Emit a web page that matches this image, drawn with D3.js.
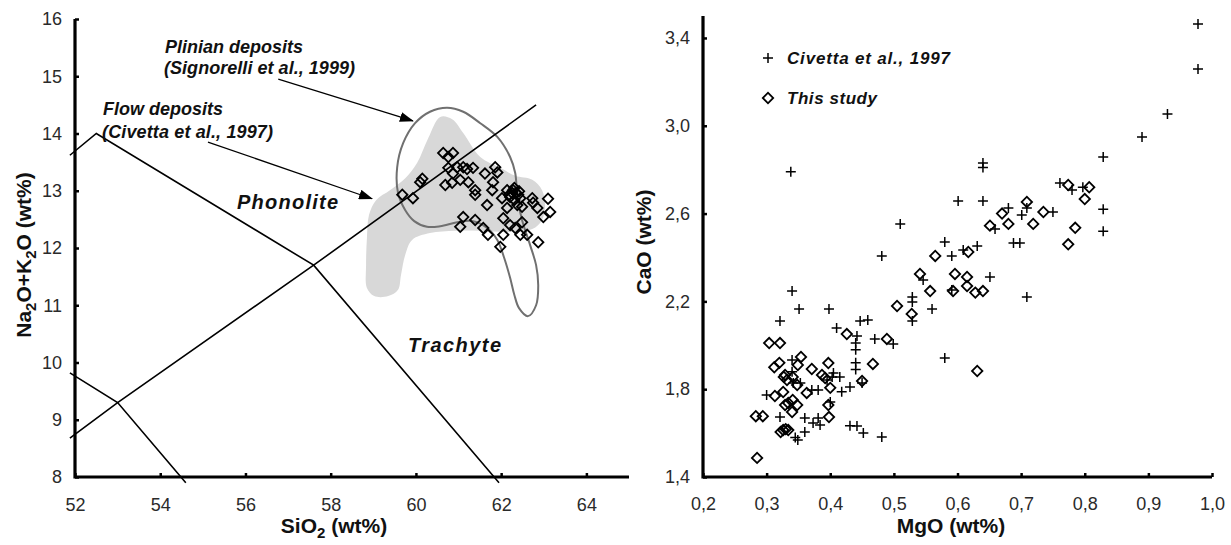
<!DOCTYPE html>
<html><head><meta charset="utf-8">
<script src="https://cdn.jsdelivr.net/npm/d3@7"></script>
<style>body{margin:0;background:#fff}</style>
</head><body>
<svg id="c" width="1231" height="545" xmlns="http://www.w3.org/2000/svg"></svg>
<script>
// ---------- DATA ----------
const tasXTicks = [52, 54, 56, 58, 60, 62, 64];
const tasYTicks = [8, 9, 10, 11, 12, 13, 14, 15, 16];
const tasLine1 = [[51.88, 13.62], [52.5, 14.0], [57.6, 11.7], [61.95, 7.9]];
const tasLine2 = [[51.88, 9.82], [53.0, 9.3], [54.6, 7.9]];
const tasLine3 = [[51.88, 8.68], [53.0, 9.3], [57.6, 11.7], [62.82, 14.5]];
const flowField = [[60.57,14.29],[60.85,14.25],[61.11,14.01],[61.51,13.59],[61.98,13.40],[62.33,13.26],[62.73,13.19],[62.96,13.01],[63.03,12.75],[62.96,12.49],[62.73,12.33],[62.21,12.28],[61.51,12.30],[60.92,12.30],[60.33,12.26],[59.91,12.14],[59.75,11.88],[59.65,11.53],[59.58,11.27],[59.35,11.16],[59.02,11.16],[58.85,11.30],[58.83,11.70],[58.85,12.17],[58.90,12.58],[59.07,12.84],[59.39,13.01],[59.75,13.22],[60.03,13.49],[60.29,13.92]];
const plinianField = [[60.73,14.45],[61.11,14.38],[61.51,14.18],[61.91,13.94],[62.21,13.59],[62.33,13.31],[62.38,12.89],[62.49,12.49],[62.68,12.05],[62.82,11.70],[62.87,11.35],[62.82,11.00],[62.63,10.81],[62.42,10.95],[62.31,11.18],[62.21,11.48],[62.07,11.83],[61.91,12.14],[61.67,12.35],[61.32,12.47],[60.97,12.45],[60.57,12.38],[60.26,12.37],[59.96,12.47],[59.75,12.66],[59.58,12.96],[59.56,13.41],[59.70,13.83],[59.98,14.18],[60.33,14.38]];
const tasStudy = [[59.68,12.93],[59.93,12.87],[60.10,13.15],[60.15,13.21],[60.64,13.66],[60.87,13.66],[60.76,13.59],[60.76,13.40],[60.97,13.41],[61.11,13.41],[61.20,13.38],[61.34,13.40],[60.87,13.30],[61.04,13.19],[60.69,13.10],[60.85,13.14],[61.23,13.15],[61.39,13.01],[61.39,12.93],[61.62,13.30],[61.86,13.41],[61.91,13.32],[61.81,13.15],[61.79,13.01],[61.67,12.75],[62.14,13.01],[62.21,12.89],[62.28,13.01],[62.35,12.96],[62.40,12.93],[62.31,12.84],[62.45,12.87],[62.02,12.87],[62.14,12.70],[62.38,12.75],[62.49,12.72],[62.73,12.87],[62.75,12.79],[62.85,12.70],[63.10,12.86],[63.15,12.63],[62.99,12.54],[61.11,12.54],[61.04,12.37],[61.39,12.49],[61.58,12.35],[61.69,12.23],[62.05,12.52],[62.21,12.40],[62.33,12.35],[62.05,12.23],[62.45,12.23],[62.61,12.23],[62.49,12.45],[62.87,12.10],[61.98,12.02],[62.26,12.96],[62.31,13.05],[62.42,12.99],[62.19,12.93]];
const arrowPlinian = [[56.77, 14.95], [59.93, 14.22]];
const arrowFlow = [[55.12, 13.85], [58.97, 12.86]];

const mgoTicks = [0.2, 0.3, 0.4, 0.5, 0.6, 0.7, 0.8, 0.9, 1.0];
const caoTicks = [1.4, 1.8, 2.2, 2.6, 3.0, 3.4];
const civetta = [[0.978,3.464],[0.978,3.259],[0.930,3.054],[0.890,2.949],[0.829,2.858],[0.640,2.83],[0.640,2.81],[0.601,2.657],[0.640,2.657],[0.761,2.739],[0.780,2.707],[0.797,2.72],[0.829,2.62],[0.829,2.52],[0.680,2.625],[0.701,2.594],[0.709,2.625],[0.750,2.607],[0.659,2.53],[0.688,2.466],[0.698,2.466],[0.580,2.47],[0.591,2.407],[0.609,2.434],[0.631,2.452],[0.651,2.311],[0.510,2.553],[0.481,2.407],[0.546,2.297],[0.529,2.22],[0.529,2.197],[0.529,2.111],[0.560,2.165],[0.591,2.252],[0.709,2.22],[0.580,1.942],[0.338,2.79],[0.340,2.247],[0.351,2.165],[0.321,2.111],[0.398,2.165],[0.410,2.079],[0.447,2.111],[0.459,2.115],[0.442,2.042],[0.440,2.01],[0.440,1.98],[0.440,1.92],[0.440,1.89],[0.470,2.029],[0.499,2.006],[0.300,1.774],[0.321,1.673],[0.340,1.933],[0.340,1.88],[0.342,1.828],[0.349,1.569],[0.345,1.58],[0.360,1.669],[0.360,1.605],[0.373,1.646],[0.381,1.669],[0.384,1.637],[0.371,1.796],[0.381,1.796],[0.353,1.828],[0.395,1.842],[0.405,1.874],[0.403,1.856],[0.415,1.856],[0.418,1.788],[0.431,1.81],[0.400,1.742],[0.431,1.633],[0.442,1.632],[0.452,1.60],[0.481,1.582],[0.450,1.828]];
const thisStudy = [[0.774,2.73],[0.807,2.72],[0.800,2.666],[0.709,2.653],[0.670,2.60],[0.735,2.607],[0.651,2.545],[0.680,2.553],[0.719,2.553],[0.785,2.535],[0.774,2.46],[0.565,2.407],[0.617,2.425],[0.596,2.325],[0.615,2.311],[0.541,2.325],[0.557,2.247],[0.593,2.247],[0.615,2.27],[0.628,2.24],[0.640,2.247],[0.631,1.883],[0.505,2.179],[0.528,2.143],[0.426,2.051],[0.489,2.029],[0.467,1.915],[0.450,1.837],[0.304,2.01],[0.321,2.01],[0.354,1.947],[0.397,1.919],[0.371,1.892],[0.397,1.728],[0.398,1.673],[0.363,1.783],[0.283,1.677],[0.294,1.677],[0.285,1.487],[0.312,1.90],[0.320,1.92],[0.327,1.856],[0.313,1.769],[0.326,1.787],[0.341,1.856],[0.349,1.91],[0.348,1.819],[0.341,1.751],[0.340,1.696],[0.329,1.728],[0.334,1.737],[0.348,1.728],[0.387,1.865],[0.392,1.851],[0.400,1.806],[0.326,1.614],[0.330,1.618],[0.334,1.614],[0.322,1.605],[0.332,1.842],[0.329,1.865]];

// ---------- DRAW ----------
const FONT = "'Liberation Sans', Arial, Helvetica, sans-serif";
const svg = d3.select("#c").style("font-family", FONT);

const defs = svg.append("defs");
defs.append("marker").attr("id", "arr").attr("viewBox", "0 0 14 10")
  .attr("refX", 13).attr("refY", 5).attr("markerWidth", 14).attr("markerHeight", 10)
  .attr("markerUnits", "userSpaceOnUse").attr("orient", "auto")
  .append("path").attr("d", "M0,0L14,5L0,10Z").attr("fill", "#000");

const diamond = d3.symbol().type(d3.symbolSquare).size(54);
const plusPath = "M-5,0H5M0,-5V5";

function styleAxis(g) {
  g.select(".domain").remove();
  g.selectAll(".tick line").attr("stroke", "#000").attr("stroke-width", 2.5);
  g.selectAll(".tick text").attr("fill", "#2a2a2a").style("font-size", "18px").style("font-family", FONT);
}
function axisFrame(g, x, y) {
  const [x0, x1] = x.range(), [y0, y1] = y.range();
  g.append("path").attr("d", `M${x0},${y1}V${y0}H${x1}`)
    .attr("fill", "none").attr("stroke", "#000").attr("stroke-width", 3.2).attr("stroke-linejoin", "miter");
}

// ===== Left chart (TAS) =====
const xL = d3.scaleLinear([52, 65], [75, 629]);
const yL = d3.scaleLinear([8, 16], [477, 19]);
const L = svg.append("g");

const lineL = d3.line().x(d => xL(d[0])).y(d => yL(d[1]));
const smoothL = d3.line().x(d => xL(d[0])).y(d => yL(d[1])).curve(d3.curveCatmullRomClosed.alpha(0.5));

L.append("path").attr("d", smoothL(flowField)).attr("fill", "#d8d8d8").attr("stroke", "none");
L.append("path").attr("d", smoothL(plinianField)).attr("fill", "none").attr("stroke", "#707070").attr("stroke-width", 2);

[tasLine1, tasLine2, tasLine3].forEach(l =>
  L.append("path").attr("d", lineL(l)).attr("fill", "none").attr("stroke", "#000").attr("stroke-width", 1.6));

[arrowPlinian, arrowFlow].forEach(a =>
  L.append("path").attr("d", lineL(a)).attr("fill", "none").attr("stroke", "#000").attr("stroke-width", 1.2).attr("marker-end", "url(#arr)"));

L.append("g").selectAll("path").data(tasStudy).join("path")
  .attr("d", diamond).attr("transform", d => `translate(${xL(d[0])},${yL(d[1])}) rotate(45)`)
  .attr("fill", "none").attr("stroke", "#000").attr("stroke-width", 1.8);

const gxL = L.append("g").attr("transform", `translate(0,${yL(8)})`)
  .call(d3.axisBottom(xL).tickValues(tasXTicks).tickSizeInner(-4).tickSizeOuter(0).tickPadding(21).tickFormat(d3.format("d")));
styleAxis(gxL);
const gyL = L.append("g").attr("transform", `translate(${xL(52)},0)`)
  .call(d3.axisLeft(yL).tickValues(tasYTicks).tickSizeInner(-4).tickSizeOuter(0).tickPadding(13).tickFormat(d3.format("d")));
styleAxis(gyL);
axisFrame(L, xL, yL);

function annot(g, txt, x, y, w, size) {
  return g.append("text").attr("x", x).attr("y", y).text(txt)
    .attr("font-weight", "bold").attr("font-style", "italic").attr("font-size", size)
    .attr("textLength", w).attr("lengthAdjust", "spacing").attr("fill", "#111");
}
annot(L, "Plinian deposits", 165, 53, 138, 18);
annot(L, "(Signorelli et al., 1999)", 164, 74, 191, 18);
annot(L, "Flow deposits", 103, 115, 120, 18);
annot(L, "(Civetta et al., 1997)", 102, 138, 171, 18);
annot(L, "Phonolite", 237, 209, 101, 20);
annot(L, "Trachyte", 408, 352, 93, 20);

// axis titles left
const tX = L.append("text").attr("x", 334).attr("y", 533).attr("text-anchor", "middle")
  .attr("font-weight", "bold").attr("font-size", 21).attr("fill", "#111");
tX.append("tspan").text("SiO");
tX.append("tspan").text("2").attr("font-size", 15).attr("dy", 5);
tX.append("tspan").text(" (wt%)").attr("dy", -5);

const tY = L.append("text").attr("transform", "translate(31,255) rotate(-90)").attr("text-anchor", "middle")
  .attr("font-weight", "bold").attr("font-size", 21).attr("fill", "#111");
tY.append("tspan").text("Na");
tY.append("tspan").text("2").attr("font-size", 15).attr("dy", 5);
tY.append("tspan").text("O+K").attr("dy", -5);
tY.append("tspan").text("2").attr("font-size", 15).attr("dy", 5);
tY.append("tspan").text("O (wt%)").attr("dy", -5);

// ===== Right chart (MgO vs CaO) =====
const xR = d3.scaleLinear([0.2, 1.0], [703, 1212]);
const yR = d3.scaleLinear([1.4, 3.5], [477, 16]);
const R = svg.append("g");
const commaFmt = d => d.toFixed(1).replace(".", ",");

R.append("g").selectAll("path").data(civetta).join("path")
  .attr("d", plusPath).attr("transform", d => `translate(${xR(d[0])},${yR(d[1])})`)
  .attr("fill", "none").attr("stroke", "#000").attr("stroke-width", 1.5);
R.append("g").selectAll("path").data(thisStudy).join("path")
  .attr("d", diamond).attr("transform", d => `translate(${xR(d[0])},${yR(d[1])}) rotate(45)`)
  .attr("fill", "none").attr("stroke", "#000").attr("stroke-width", 1.8);

const gxR = R.append("g").attr("transform", `translate(0,${yR(1.4)})`)
  .call(d3.axisBottom(xR).tickValues(mgoTicks).tickSizeInner(-4).tickSizeOuter(0).tickPadding(20).tickFormat(commaFmt));
styleAxis(gxR);
const gyR = R.append("g").attr("transform", `translate(${xR(0.2)},0)`)
  .call(d3.axisLeft(yR).tickValues(caoTicks).tickSizeInner(-4).tickSizeOuter(0).tickPadding(13).tickFormat(commaFmt));
styleAxis(gyR);
axisFrame(R, xR, yR);

// legend
R.append("path").attr("d", plusPath).attr("transform", "translate(768,58)").attr("fill", "none").attr("stroke", "#000").attr("stroke-width", 1.5);
R.append("path").attr("d", diamond).attr("transform", "translate(768,98) rotate(45)").attr("fill", "none").attr("stroke", "#000").attr("stroke-width", 1.8);
annot(R, "Civetta et al., 1997", 787, 64, 163, 17);
annot(R, "This study", 787, 104, 90, 17);

R.append("text").attr("x", 951).attr("y", 533).attr("text-anchor", "middle")
  .attr("font-weight", "bold").attr("font-size", 21).attr("fill", "#111").text("MgO (wt%)");
R.append("text").attr("transform", "translate(651,242) rotate(-90)").attr("text-anchor", "middle")
  .attr("font-weight", "bold").attr("font-size", 21).attr("fill", "#111").text("CaO (wt%)");
</script>
</body></html>
